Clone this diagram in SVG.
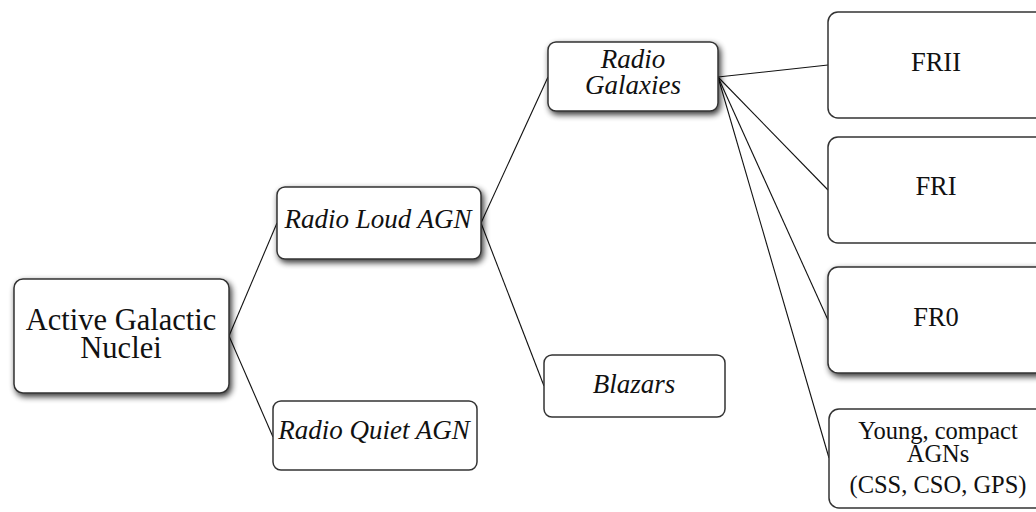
<svg xmlns="http://www.w3.org/2000/svg" width="1036" height="512" viewBox="0 0 1036 512">
<defs>
<filter id="glow" x="-20%" y="-30%" width="140%" height="160%">
<feGaussianBlur in="SourceAlpha" stdDeviation="3"/>
<feOffset dx="1.5" dy="2.5" result="b"/>
<feComponentTransfer in="b" result="s"><feFuncA type="linear" slope="0.8"/></feComponentTransfer>
<feMerge><feMergeNode in="s"/><feMergeNode in="SourceGraphic"/></feMerge>
</filter>
</defs>
<style>
.box{fill:#fff;stroke:#333;stroke-width:1.5}
.sh{filter:url(#glow)}
text{font-family:'Liberation Serif','Times New Roman','DejaVu Serif',serif;fill:#111;text-anchor:middle}
.i{font-style:italic}
.conn line{stroke:#111;stroke-width:1.1}
</style>
<rect width="1036" height="512" fill="#fff"/>
<g id="connectors" class="conn">
<line x1="229" y1="336" x2="277" y2="223"/>
<line x1="229" y1="336" x2="273" y2="437"/>
<line x1="481" y1="223" x2="548" y2="77"/>
<line x1="481" y1="223" x2="544" y2="386"/>
<line x1="718" y1="77" x2="828" y2="65"/>
<line x1="718" y1="77" x2="828" y2="190"/>
<line x1="718" y1="77" x2="828" y2="320"/>
<line x1="718" y1="77" x2="829" y2="458"/>
</g>
<g id="agn">
<rect class="box sh" x="14" y="279" width="215" height="114" rx="9"/>
<text font-family="Liberation Serif, serif" x="121" y="330" font-size="30.5">Active Galactic</text>
<text font-family="Liberation Serif, serif" x="121" y="358" font-size="30.5">Nuclei</text>
</g>
<g id="radio-loud">
<rect class="box sh" x="277" y="187" width="204" height="72" rx="8"/>
<text class="i" font-family="Liberation Serif, serif" x="378" y="228" font-size="27">Radio Loud AGN</text>
</g>
<g id="radio-quiet">
<rect class="box" x="273" y="401" width="204" height="69" rx="8"/>
<text class="i" font-family="Liberation Serif, serif" x="374" y="439" font-size="27">Radio Quiet AGN</text>
</g>
<g id="radio-galaxies">
<rect class="box sh" x="548" y="42" width="170" height="69" rx="8"/>
<text class="i" font-family="Liberation Serif, serif" x="633" y="68" font-size="27">Radio</text>
<text class="i" font-family="Liberation Serif, serif" x="633" y="94" font-size="27">Galaxies</text>
</g>
<g id="blazars">
<rect class="box" x="544" y="355" width="181" height="62" rx="8"/>
<text class="i" font-family="Liberation Serif, serif" x="634" y="393" font-size="27">Blazars</text>
</g>
<g id="frii">
<rect class="box" x="828" y="12" width="218" height="106" rx="10"/>
<text font-family="Liberation Serif, serif" x="936" y="71" font-size="26.5">FRII</text>
</g>
<g id="fri">
<rect class="box" x="828" y="137" width="218" height="106" rx="10"/>
<text font-family="Liberation Serif, serif" x="936" y="195" font-size="26.5">FRI</text>
</g>
<g id="fr0">
<rect class="box sh" x="828" y="267" width="218" height="106" rx="10"/>
<text font-family="Liberation Serif, serif" x="936" y="326" font-size="26.5">FR0</text>
</g>
<g id="young">
<rect class="box" x="829" y="409" width="218" height="99" rx="10"/>
<text font-family="Liberation Serif, serif" x="938" y="439" font-size="24.5">Young, compact</text>
<text font-family="Liberation Serif, serif" x="938" y="462" font-size="24.5">AGNs</text>
<text font-family="Liberation Serif, serif" x="938" y="493" font-size="24.5">(CSS, CSO, GPS)</text>
</g>
</svg>
